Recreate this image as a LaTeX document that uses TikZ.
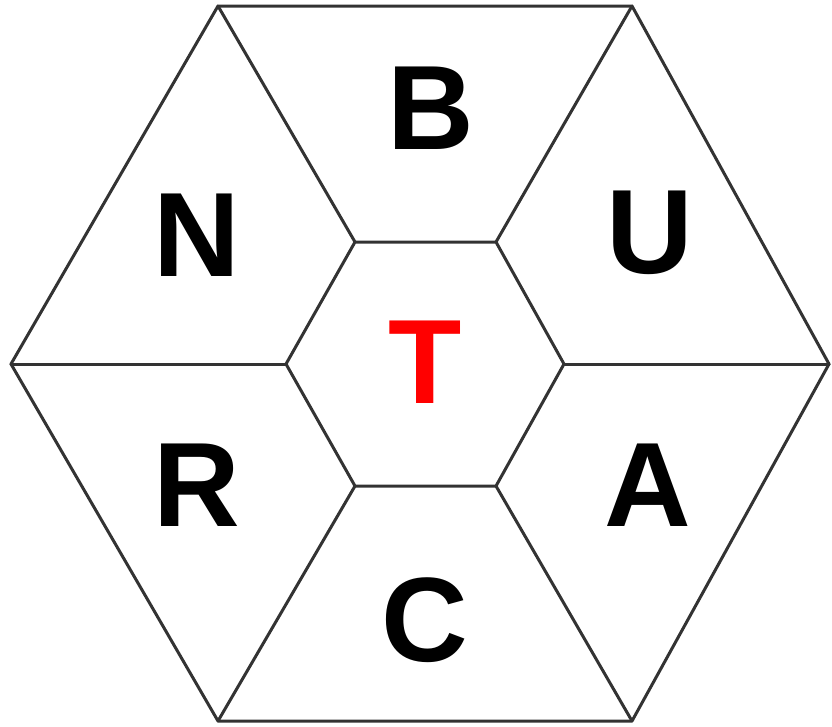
\documentclass[tikz,border=0pt]{standalone}
\usepackage{fontspec}
\setmainfont{Liberation Sans}
\begin{document}
\begin{tikzpicture}[x=1pt,y=-1pt,
  edge/.style={draw=black!80,line width=3pt,line join=round,line cap=round},
  letter/.style={inner sep=0pt,font=\fontsize{120}{120}\selectfont\bfseries}]
\useasboundingbox (0,0) rectangle (832,726);
% outer vertices
\coordinate (o1) at (218,6);
\coordinate (o2) at (632,6);
\coordinate (o3) at (829,364);
\coordinate (o4) at (632,721);
\coordinate (o5) at (218,721);
\coordinate (o6) at (11,364);
% inner vertices
\coordinate (i1) at (355,242);
\coordinate (i2) at (496,242);
\coordinate (i3) at (564,364);
\coordinate (i4) at (496,486);
\coordinate (i5) at (355,486);
\coordinate (i6) at (286,364);
\draw[edge] (o1)--(o2)--(o3)--(o4)--(o5)--(o6)--cycle;
\draw[edge] (i1)--(i2)--(i3)--(i4)--(i5)--(i6)--cycle;
\foreach \k in {1,...,6} \draw[edge] (i\k)--(o\k);
\node[letter] (B) at (431,108) {B};
\node[letter] (U) at (650,233) {U};
\node[letter] (A) at (648,485) {A};
\node[letter] (C) at (425,620) {C};
\node[letter] (R) at (197,485) {R};
\node[letter] (N) at (197,235) {N};
\node[letter,text=red] (T) at (425,362) {T};
\end{tikzpicture}
\end{document}
